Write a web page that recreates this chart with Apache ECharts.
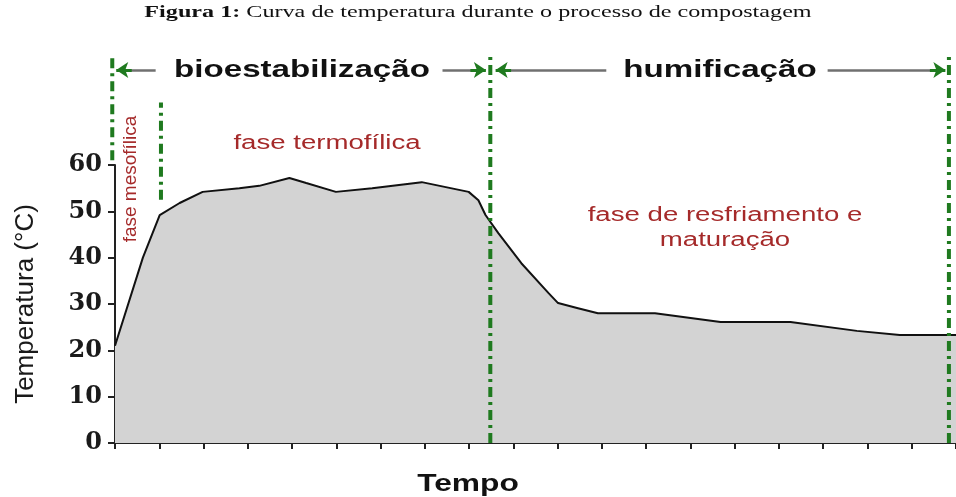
<!DOCTYPE html>
<html>
<head>
<meta charset="utf-8">
<script src="https://cdn.jsdelivr.net/npm/echarts@6/dist/echarts.min.js"></script>
<style>
html, body { margin: 0; padding: 0; background: #fff; }
#grafico { width: 956px; height: 497px; }
</style>
</head>
<body>
<div id="grafico"></div>
<script>
// tempo em unidades de marcacao do eixo x, temperatura em ºC
var tempo = [0, 0.63, 1.01, 1.46, 1.98, 2.81, 3.26, 3.94, 4.32, 4.99, 5.81, 6.93, 7.99, 8.21, 8.37, 8.66, 9.18, 9.79, 10.01, 10.46, 10.91, 12.2, 13.68, 15.26, 16.76, 17.73, 19];
var temperatura = [21, 40, 49.2, 51.8, 54.2, 55, 55.5, 57.2, 56.1, 54.2, 55, 56.3, 54.2, 52.4, 49.2, 45.3, 38.8, 32.4, 30.2, 29.1, 28, 28, 26.1, 26.1, 24.2, 23.3, 23.3];
var rotulosY = [0, 10, 20, 30, 40, 50, 60];

// limites das fases (linhas verdes tracejadas)
var limites = [-0.06, 1.04, 8.48, 18.84];
var limitesTopo = [84, 73.5, 84, 84];
var limitesBase = [61, 52.5, 0, 0];

// setas do cabecalho: [inicio, fim]
var setas = [[0.92, 0.03], [7.4, 8.38], [11.1, 8.6], [16.1, 18.76]];
var alturaSetas = 80.5;

var chart = echarts.init(document.getElementById('grafico'));

var esticar = 1.38;
var verde = '#1f7a1f';
var vermelho = '#a52a2a';

var pontos = tempo.map(function (t, i) { return [t, temperatura[i]]; });

var linhasSetas = [];
setas.forEach(function (s) {
    var dir = s[1] > s[0] ? 1 : -1;
    linhasSetas.push([
        { coord: [s[0], alturaSetas], symbol: 'none' },
        { coord: [s[1] - dir * 0.2, alturaSetas], symbol: 'none', lineStyle: { color: '#707070', width: 2.5, type: 'solid' } }
    ]);
    linhasSetas.push([
        { coord: [s[1] - dir * 0.35, alturaSetas], symbol: 'none' },
        { coord: [s[1], alturaSetas], symbol: 'arrow', lineStyle: { color: verde, width: 3, type: 'solid' } }
    ]);
});

var series = [{
    name: 'Temperatura',
    type: 'line',
    data: pontos,
    showSymbol: false,
    symbol: 'none',
    lineStyle: { color: '#111', width: 2 },
    areaStyle: { color: '#d3d3d3', opacity: 1 },
    z: 2
}];

limites.forEach(function (x, i) {
    var s = {
        type: 'line',
        xAxisIndex: 1,
        yAxisIndex: 1,
        data: [[x, limitesBase[i]], [x, limitesTopo[i]]],
        symbol: 'none',
        clip: false,
        lineStyle: { color: verde, width: 4, type: [10, 5, 3, 5], cap: 'butt' },
        z: 3,
        silent: true
    };
    if (i === 0) {
        s.markLine = {
            silent: true,
            symbolSize: 12,
            label: { show: false },
            lineStyle: { type: 'solid' },
            data: linhasSetas
        };
    }
    series.push(s);
});

// grade auxiliar com a mesma escala horizontal, estendida meio passo a esquerda
var passoX = 844 / 19;

var option = {
    animation: false,
    grid: [
        { left: 115, width: 844, top: 165, height: 278 },
        { left: 115 - 0.5 * passoX, width: 844 + 0.5 * passoX, top: 53.8, height: 389.2 }
    ],
    xAxis: [{
        type: 'value',
        min: 0,
        max: 19,
        interval: 1,
        axisLine: { show: true, lineStyle: { color: '#222', width: 2 } },
        axisTick: { show: true, length: 6, lineStyle: { color: '#222', width: 2 } },
        axisLabel: { show: false },
        splitLine: { show: false }
    }, {
        type: 'value',
        gridIndex: 1,
        min: -0.5,
        max: 19,
        show: false
    }],
    yAxis: [{
        type: 'value',
        min: rotulosY[0],
        max: rotulosY[rotulosY.length - 1],
        interval: rotulosY[1] - rotulosY[0],
        name: 'Temperatura (°C)',
        nameLocation: 'middle',
        nameGap: 76,
        nameTextStyle: { fontFamily: 'Liberation Sans', fontSize: 26, color: '#1a1a1a' },
        axisLine: { show: true, lineStyle: { color: '#222', width: 2 } },
        axisTick: { show: true, length: 7, lineStyle: { color: '#222', width: 2 } },
        axisLabel: { fontFamily: 'DejaVu Serif', fontWeight: 'bold', fontSize: 24, color: '#1a1a1a', margin: 13 },
        splitLine: { show: false }
    }, {
        type: 'value',
        gridIndex: 1,
        min: 0,
        max: 84,
        show: false
    }],
    graphic: [{
        type: 'text', x: 478, y: 12, scaleX: esticar,
        style: {
            text: '{b|Figura 1:} Curva de temperatura durante o processo de compostagem',
            fontFamily: 'Liberation Serif', fontSize: 17.5, fill: '#111',
            align: 'center', verticalAlign: 'middle',
            rich: { b: { fontFamily: 'Liberation Serif', fontSize: 17.5, fontWeight: 'bold', fill: '#111' } }
        }
    }, {
        type: 'text', x: 302, y: 70, scaleX: esticar,
        style: { text: 'bioestabilização', fontFamily: 'Liberation Sans', fontWeight: 'bold', fontSize: 24, fill: '#111', align: 'center', verticalAlign: 'middle' }
    }, {
        type: 'text', x: 720, y: 70, scaleX: esticar,
        style: { text: 'humificação', fontFamily: 'Liberation Sans', fontWeight: 'bold', fontSize: 24, fill: '#111', align: 'center', verticalAlign: 'middle' }
    }, {
        type: 'text', x: 327, y: 143, scaleX: esticar,
        style: { text: 'fase termofílica', fontFamily: 'Liberation Sans', fontSize: 20, fill: vermelho, align: 'center', verticalAlign: 'middle' }
    }, {
        type: 'text', x: 725, y: 228, scaleX: esticar,
        style: { text: 'fase de resfriamento e\nmaturação', fontFamily: 'Liberation Sans', fontSize: 20, lineHeight: 25, fill: vermelho, align: 'center', verticalAlign: 'middle' }
    }, {
        type: 'text', x: 131, y: 179, rotation: Math.PI / 2,
        style: { text: 'fase mesofílica', fontFamily: 'Liberation Sans', fontSize: 19, fill: vermelho, align: 'center', verticalAlign: 'middle' }
    }, {
        type: 'text', x: 468, y: 485, scaleX: esticar,
        style: { text: 'Tempo', fontFamily: 'Liberation Sans', fontWeight: 'bold', fontSize: 23, fill: '#111', align: 'center', verticalAlign: 'middle' }
    }],
    series: series
};

chart.setOption(option);
</script>
</body>
</html>
